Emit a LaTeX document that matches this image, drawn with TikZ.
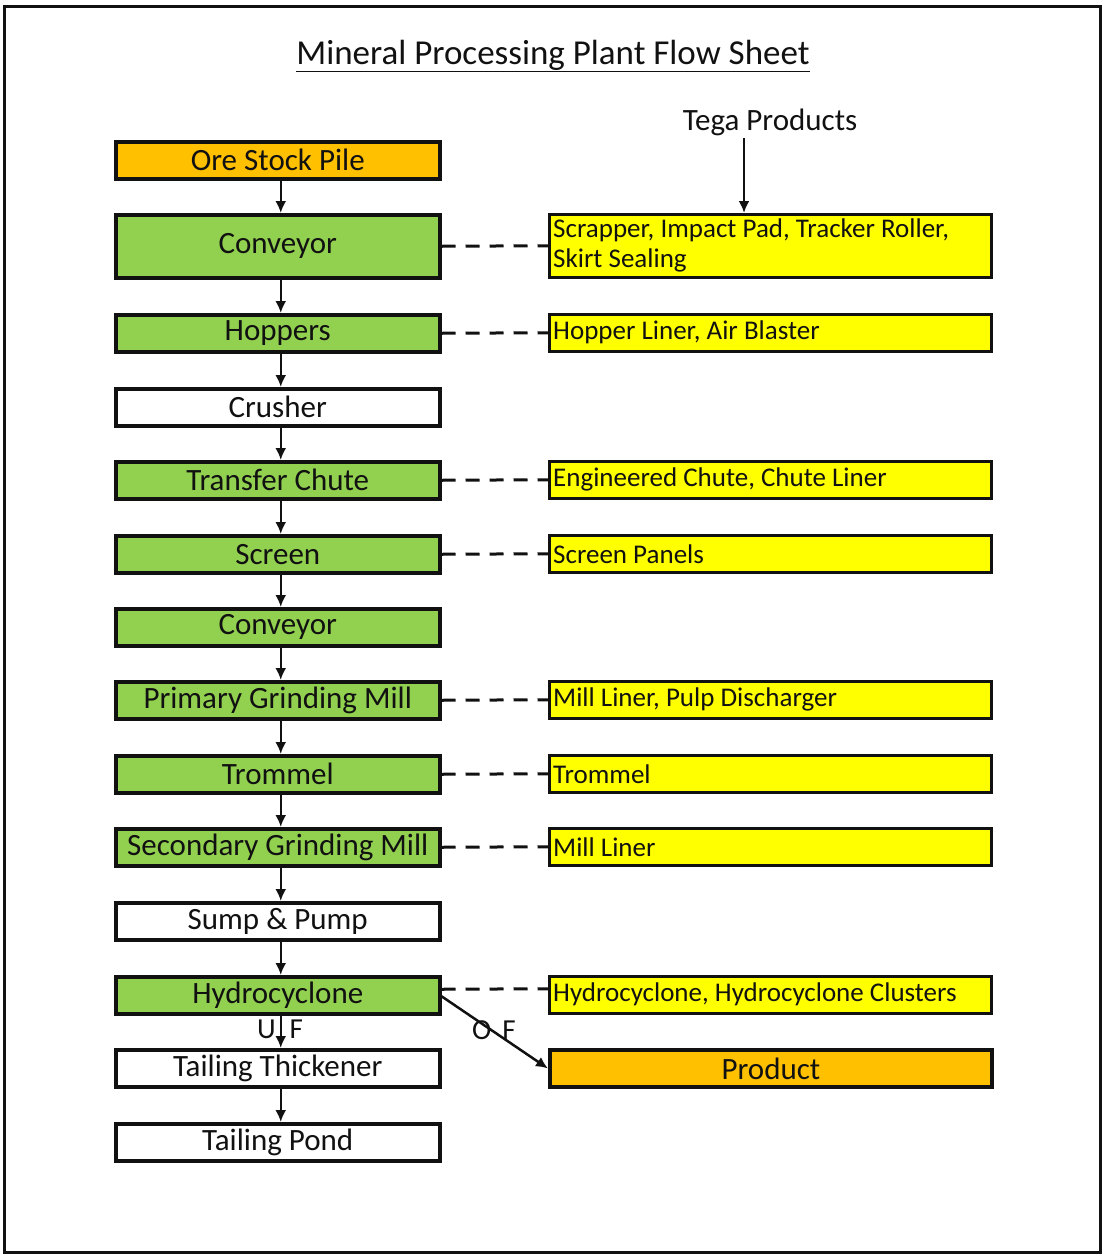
\documentclass[tikz,border=0pt]{standalone}
\usepackage{fontspec}
\setmainfont{Carlito}
\usetikzlibrary{arrows.meta}
\definecolor{og}{HTML}{FFC000}
\definecolor{gr}{HTML}{92D050}
\definecolor{yl}{HTML}{FFFF00}
\definecolor{ink}{HTML}{111111}
\tikzset{
  lbox/.style={draw=ink,line width=3.5pt,anchor=north west,minimum width=324pt,minimum height=37pt,inner sep=0pt,font=\fontsize{31}{36}\selectfont,text=ink},
  rbox/.style={draw=ink,line width=2.5pt,anchor=north west,minimum width=442pt,minimum height=37pt,inner sep=0pt,font=\fontsize{27}{30}\selectfont,text=ink},
  rtext/.style={anchor=west,inner sep=0pt,font=\fontsize{27}{30}\selectfont,text=ink,align=left},
  flow/.style={draw=ink,line width=2.5pt,-{Latex[length=12pt,width=11pt]}},
  dsh/.style={draw=ink,line width=3pt,dash pattern=on 14pt off 10pt},
}
\begin{document}
\begin{tikzpicture}[x=1pt,y=-1pt]
\useasboundingbox (0,0) rectangle (1104,1256);
\draw[line width=3pt,draw=ink] (4,6) rectangle (1100,1252);
\node[font=\fontsize{35}{40}\selectfont,text=ink] (title) at (553,56) {\underline{Mineral Processing Plant Flow Sheet}};
\node[font=\fontsize{31}{36}\selectfont,text=ink] (tega) at (770,122) {Tega Products};
% left column
\node[lbox,fill=og] (ore) at (114,140) {Ore Stock Pile};
\node[lbox,fill=gr,minimum height=63pt] (conv1) at (114,213) {Conveyor};
\node[lbox,fill=gr] (hop) at (114,313) {Hoppers};
\node[lbox,fill=white] (crus) at (114,387) {Crusher};
\node[lbox,fill=gr] (chute) at (114,460) {Transfer Chute};
\node[lbox,fill=gr] (scr) at (114,534) {Screen};
\node[lbox,fill=gr] (conv2) at (114,607) {Conveyor};
\node[lbox,fill=gr] (pgm) at (114,680) {Primary Grinding Mill};
\node[lbox,fill=gr] (trom) at (114,754) {Trommel};
\node[lbox,fill=gr] (sgm) at (114,827) {Secondary Grinding Mill};
\node[lbox,fill=white] (sump) at (114,901) {Sump \& Pump};
\node[lbox,fill=gr] (hyd) at (114,975) {Hydrocyclone};
\node[lbox,fill=white] (thick) at (114,1048) {Tailing Thickener};
\node[lbox,fill=white] (pond) at (114,1122) {Tailing Pond};
% right column
\node[rbox,fill=yl,minimum height=63pt] (r1) at (548,213) {};
\node[rtext] (r1t) at ([xshift=5pt]r1.west) {Scrapper, Impact Pad, Tracker Roller,\\Skirt Sealing};
\node[rbox,fill=yl] (r2) at (548,313) {};
\node[rtext] (r2t) at ([xshift=5pt]r2.west) {Hopper Liner, Air Blaster};
\node[rbox,fill=yl] (r3) at (548,460) {};
\node[rtext] (r3t) at ([xshift=5pt]r3.west) {Engineered Chute, Chute Liner};
\node[rbox,fill=yl] (r4) at (548,534) {};
\node[rtext] (r4t) at ([xshift=5pt]r4.west) {Screen Panels};
\node[rbox,fill=yl] (r5) at (548,680) {};
\node[rtext] (r5t) at ([xshift=5pt]r5.west) {Mill Liner, Pulp Discharger};
\node[rbox,fill=yl] (r6) at (548,754) {};
\node[rtext] (r6t) at ([xshift=5pt]r6.west) {Trommel};
\node[rbox,fill=yl] (r7) at (548,827) {};
\node[rtext] (r7t) at ([xshift=5pt]r7.west) {Mill Liner};
\node[rbox,fill=yl] (r8) at (548,975) {};
\node[rtext] (r8t) at ([xshift=5pt]r8.west) {Hydrocyclone, Hydrocyclone Clusters};
\node[rbox,fill=og,line width=4pt,font=\fontsize{31}{36}\selectfont] (prod) at (548,1048) {Product};
% flow arrows
\foreach \a/\b in {ore/conv1,conv1/hop,hop/crus,crus/chute,chute/scr,scr/conv2,conv2/pgm,pgm/trom,trom/sgm,sgm/sump,sump/hyd,hyd/thick,thick/pond}
  \draw[flow] ([xshift=3pt]\a.south) -- ([xshift=3pt]\b.north);
\coordinate (tg) at (744,138);
\draw[flow] (tg) -- (tg |- r1.north);
\draw[flow] ([yshift=-1pt]hyd.east) -- (prod.west);
% labels
\node[font=\fontsize{29}{32}\selectfont,text=ink] (uf) at (280,1029) {U\hspace{14pt}F};
\node[font=\fontsize{29}{32}\selectfont,text=ink] (of) at (494,1030) {O\hspace{11pt}F};
% dashed links
\draw[dsh] (conv1.east) -- (r1.west);
\draw[dsh] (hop.east) -- (r2.west);
\draw[dsh] (chute.east) -- (r3.west);
\draw[dsh] (scr.east) -- (r4.west);
\draw[dsh] (pgm.east) -- (r5.west);
\draw[dsh] (trom.east) -- (r6.west);
\draw[dsh] (sgm.east) -- (r7.west);
\draw[dsh] ([yshift=6pt]hyd.east) -- ([yshift=6pt]r8.west);
\end{tikzpicture}
\end{document}
